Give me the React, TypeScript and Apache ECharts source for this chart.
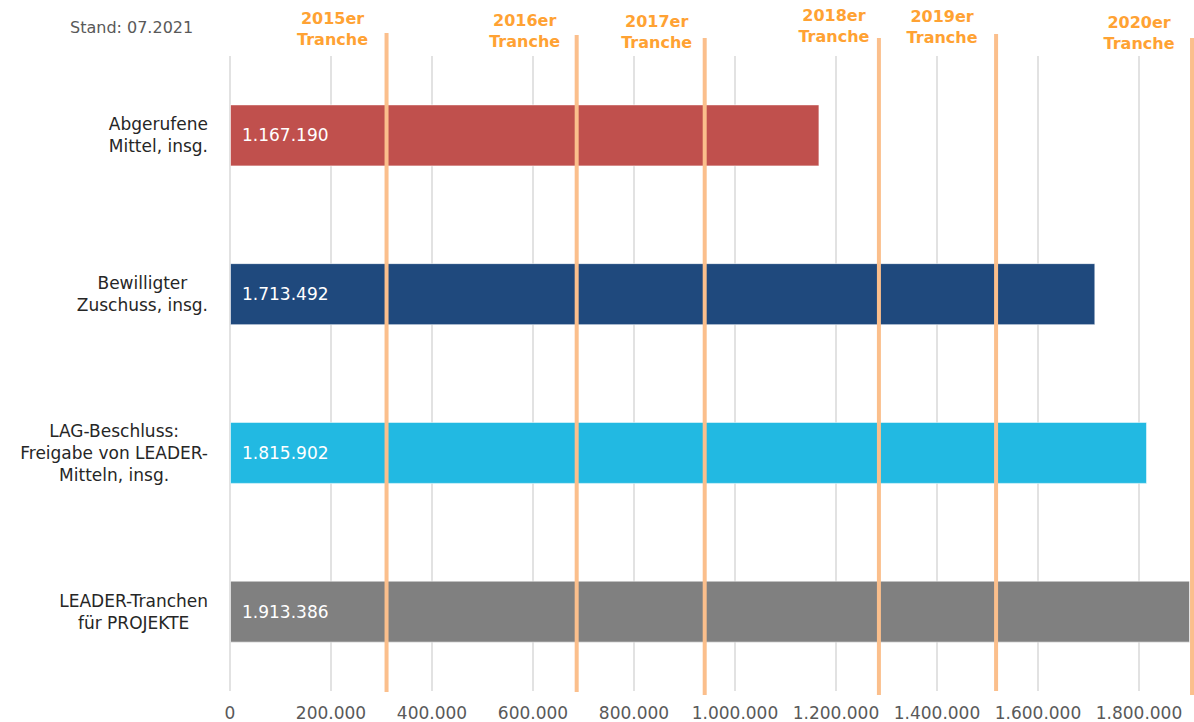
import React, { useEffect, useRef } from "react";
import * as echarts from "echarts";

const categories = [
  "Abgerufene\nMittel, insg.",
  "Bewilligter\nZuschuss, insg.",
  "LAG-Beschluss:\nFreigabe von LEADER-\nMitteln, insg.",
  "LEADER-Tranchen\nfür PROJEKTE",
];
const values = [1167190, 1713492, 1815902, 1913386];
const barColors = ["#C0504D", "#1F497D", "#22B9E2", "#808080"];

const trancheLabels = ["2015er\nTranche", "2016er\nTranche", "2017er\nTranche", "2018er\nTranche", "2019er\nTranche", "2020er\nTranche"];
const trancheValues = [310000, 686500, 940000, 1285000, 1517000, 1905000];

const xTicks = { min: 0, max: 1900000, interval: 200000 };
const standText = "Stand: 07.2021";

// styling / placement of tranche markers (pixels)
const lineTop = [33, 35, 38, 38, 34, 38];
const lineBottom = [692, 692, 695, 695, 691, 695];
const labelDx = [54, 52, 48, 45, 54, 53];
const labelY = [29, 31, 32, 26, 27, 33];

const FONT = "DejaVu Sans";

function fmt(v: number): string {
  const s = Math.round(v).toString();
  return s.replace(/\B(?=(\d{3})+(?!\d))/g, ".");
}

export default function App() {
  const ref = useRef<HTMLDivElement>(null);
  useEffect(() => {
    if (!ref.current) return;
    const chart = echarts.init(ref.current, undefined, { renderer: "svg" });
    const option: any = {
      animation: false,
      backgroundColor: "#ffffff",
      title: {
        text: standText,
        left: 70,
        top: 19,
        padding: 0,
        textStyle: { fontFamily: FONT, fontSize: 16, fontWeight: "normal", color: "#595959" },
      },
      grid: { left: 230, right: 4.5, top: 56, bottom: 31, containLabel: false },
      xAxis: {
        type: "value",
        min: xTicks.min,
        max: xTicks.max,
        interval: xTicks.interval,
        axisLine: { show: false },
        axisTick: { show: false },
        axisLabel: {
          show: true,
          showMaxLabel: false,
          margin: 13,
          fontFamily: FONT,
          fontSize: 17,
          color: "#595959",
          formatter: (v: number) => (v >= xTicks.max ? "" : fmt(v)),
        },
        splitLine: { show: true, showMaxLine: false, lineStyle: { color: "#D9D9D9", width: 1.5 } },
      },
      yAxis: {
        type: "category",
        data: categories,
        inverse: true,
        axisLine: { show: false },
        axisTick: { show: false },
        axisLabel: {
          margin: 22,
          formatter: (v: string) => v.split("\n").map((l) => "{c|" + l + "}").join("\n"),
          rich: {
            c: { align: "center", fontFamily: FONT, fontSize: 17, color: "#262626", lineHeight: 22 },
          },
        },
      },
      series: [
        {
          type: "bar",
          clip: true,
          barWidth: 62,
          data: values.map((v, i) => ({
            value: v,
            itemStyle: { color: barColors[i], borderColor: "rgba(255,255,255,0.55)", borderWidth: 1 },
          })),
          label: {
            show: true,
            position: "insideLeft",
            distance: 12,
            fontFamily: FONT,
            fontSize: 17,
            color: "#ffffff",
            formatter: (p: any) => fmt(p.value),
          },
          z: 2,
        },
        {
          type: "custom",
          clip: false,
          z: 5,
          data: trancheValues.map((v) => [v, 0]),
          encode: { x: 0, y: 1 },
          renderItem: (params: any, api: any) => {
            const i = params.dataIndex;
            const x = api.coord([api.value(0), 0])[0];
            return {
              type: "group",
              children: [
                {
                  type: "line",
                  shape: { x1: x, y1: lineTop[i], x2: x, y2: lineBottom[i] },
                  style: { stroke: "#FBBF8C", lineWidth: 4 },
                },
                {
                  type: "text",
                  x: x - labelDx[i],
                  y: labelY[i],
                  style: {
                    text: trancheLabels[i],
                    fill: "#FFA233",
                    fontFamily: FONT,
                    fontSize: 16,
                    fontWeight: "bold",
                    align: "center",
                    verticalAlign: "middle",
                    lineHeight: 21,
                  },
                },
              ],
            };
          },
        },
      ],
    };
    chart.setOption(option);
    return () => chart.dispose();
  }, []);
  return (
    <div
      ref={ref}
      style={{ position: "fixed", left: 0, top: 0, width: 1194, height: 722, background: "#fff" }}
    />
  );
}
